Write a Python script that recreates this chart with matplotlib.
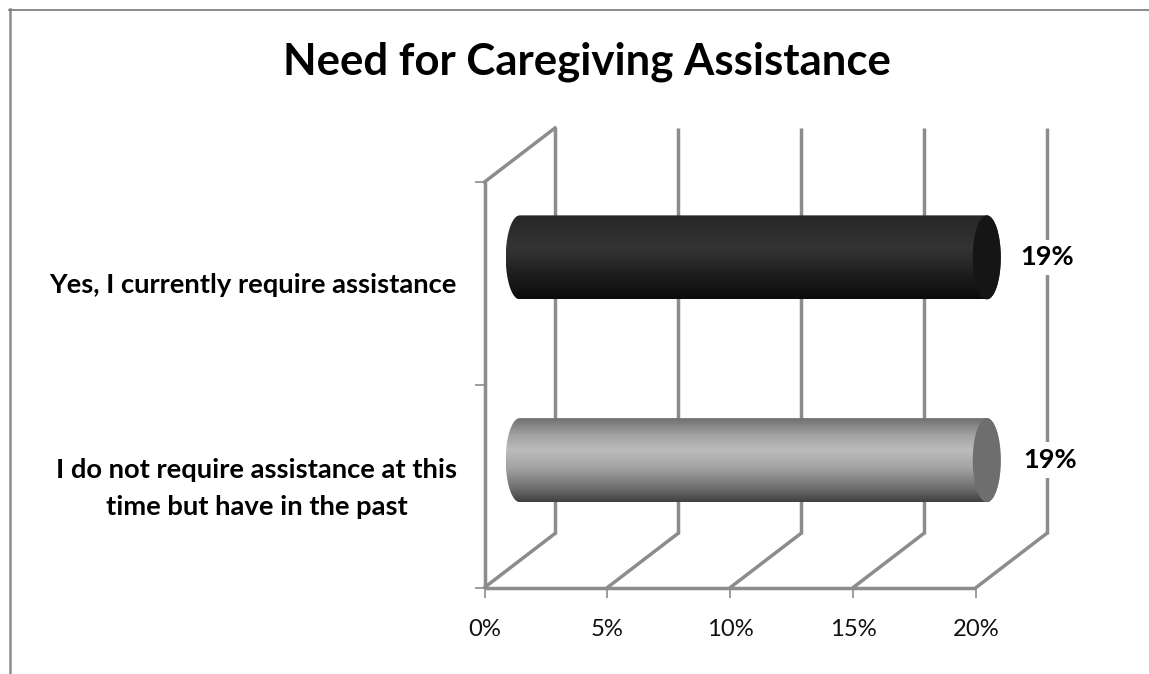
import numpy as np
import matplotlib
matplotlib.use("Agg")
import matplotlib.pyplot as plt
from matplotlib.colors import LinearSegmentedColormap
from matplotlib.lines import Line2D
from matplotlib.patches import Ellipse, Polygon

# ---- data ----
title = "Need for Caregiving Assistance"
categories = ["I do not require assistance at this\ntime but have in the past",
              "Yes, I currently require assistance"]
values = [19, 19]
value_labels = ["19%", "19%"]
x_ticks = [0, 5, 10, 15, 20]
x_tick_labels = ["0%", "5%", "10%", "15%", "20%"]

# ---- style ----
plt.rcParams['font.family'] = ['Lato', 'DejaVu Sans']
W, H = 1149, 674
GRID = "#8c8c8c"
CAP_COLORS = ["#6e6e6e", "#151515"]
PROFILES = [
    [(0, "#6f6f6f"), (.2, "#a2a2a2"), (.38, "#bcbcbc"), (.6, "#a2a2a2"), (.85, "#6a6a6a"), (1, "#404040")],
    [(0, "#262626"), (.4, "#343434"), (.75, "#1b1b1b"), (1, "#0b0b0b")],
]

# pixel layout of the scales
X0, PX_PER_PCT = 484.5, 24.58
Y0, PX_PER_CAT = 587.5, 202.75
DX, DY = 70.5 / PX_PER_PCT, 54 / PX_PER_CAT  # depth of the 3-D box in data units
BAR_H, CAP_W = 84 / PX_PER_CAT, 14 / PX_PER_PCT
TOP = 2

fig = plt.figure(figsize=(W / 100, H / 100), dpi=100, facecolor="white")
ax = fig.add_axes([0, 0, 1, 1])
ax.axis("off")
xlim = (-X0 / PX_PER_PCT, (W - X0) / PX_PER_PCT)
ylim = ((Y0 - H) / PX_PER_CAT, Y0 / PX_PER_CAT)

# chart border (top and left only reach the picture edges)
fig.add_artist(Line2D([9.5 / W, 9.5 / W], [0, 1 - 9 / H], color=GRID, lw=1.8))
fig.add_artist(Line2D([9 / W, 1], [1 - 9.5 / H] * 2, color="#777777", lw=1.2))

# walls and floor
lw = 2.5
for t, tl in zip(x_ticks, x_tick_labels):
    ax.plot([t + DX, t + DX], [DY, TOP + DY], color=GRID, lw=lw, zorder=1, solid_capstyle="butt")
    ax.plot([t, t + DX], [0, DY], color=GRID, lw=lw, zorder=1, solid_capstyle="round")
    ax.plot([t, t], [0, -10 / PX_PER_CAT], color=GRID, lw=1.2, zorder=1, solid_capstyle="butt")
    ax.text(t, -42 / PX_PER_CAT, tl, ha="center", va="center", fontsize=17.2, color="#111111")
ax.plot([0, 0], [0, TOP], color=GRID, lw=lw, zorder=1, solid_capstyle="butt")
ax.plot([0, DX], [TOP, TOP + DY], color=GRID, lw=lw, zorder=1)
ax.plot([0, x_ticks[-1]], [0, 0], color=GRID, lw=lw, zorder=1, solid_capstyle="butt")
for c in range(TOP + 1):
    ax.plot([-10 / PX_PER_PCT, 0], [c, c], color=GRID, lw=1.2, zorder=1, solid_capstyle="butt")

# cylinders
yc = [i + 0.5 for i in range(len(values))]
label_nudge = [3 / PX_PER_PCT, 0]
for i, (v, y, lab, prof, cap) in enumerate(zip(values, yc, value_labels, PROFILES, CAP_COLORS)):
    x_l, x_r = DX / 2, DX / 2 + v
    cy = y + DY / 2 - 1 / PX_PER_CAT
    th = np.linspace(0, np.pi, 91)
    right = np.c_[x_r + CAP_W * np.sin(th), cy - BAR_H / 2 * np.cos(th)]
    left = np.c_[x_l - CAP_W * np.sin(th), cy + BAR_H / 2 * np.cos(th)]
    outline = np.vstack([right, left])
    cmap = LinearSegmentedColormap.from_list(f"c{i}", prof)
    grad = np.linspace(0, 1, 256)[:, None]
    im = ax.imshow(grad, cmap=cmap, aspect="auto", origin="upper", zorder=3, interpolation="bilinear",
                   extent=(x_l - CAP_W, x_r + CAP_W, cy - BAR_H / 2, cy + BAR_H / 2))
    clip = Polygon(outline, closed=True, transform=ax.transData, fc="none", ec="none")
    ax.add_patch(clip)
    im.set_clip_path(clip)
    ax.add_patch(Ellipse((x_r, cy), 2 * CAP_W, BAR_H, fc=cap, ec="none", zorder=4))
    ax.text(x_ticks[-1] + DX + label_nudge[i], cy, lab, ha="center", va="center", fontsize=19.5, fontweight="bold",
            color="black", zorder=5, bbox=dict(fc="white", ec="none", pad=4))
    ax.text(-27.5 / PX_PER_PCT, y - 2 / PX_PER_CAT, categories[i], ha="right", va="center", multialignment="center",
            fontsize=19.7, fontweight="bold", color="black", linespacing=1.64)

ax.text((587 - X0) / PX_PER_PCT, (Y0 - 62) / PX_PER_CAT, title, ha="center", va="center",
        fontsize=31.5, fontweight="bold", color="black")
ax.set_xlim(xlim)
ax.set_ylim(ylim)
fig.savefig("out.png", dpi=100, facecolor="white")
